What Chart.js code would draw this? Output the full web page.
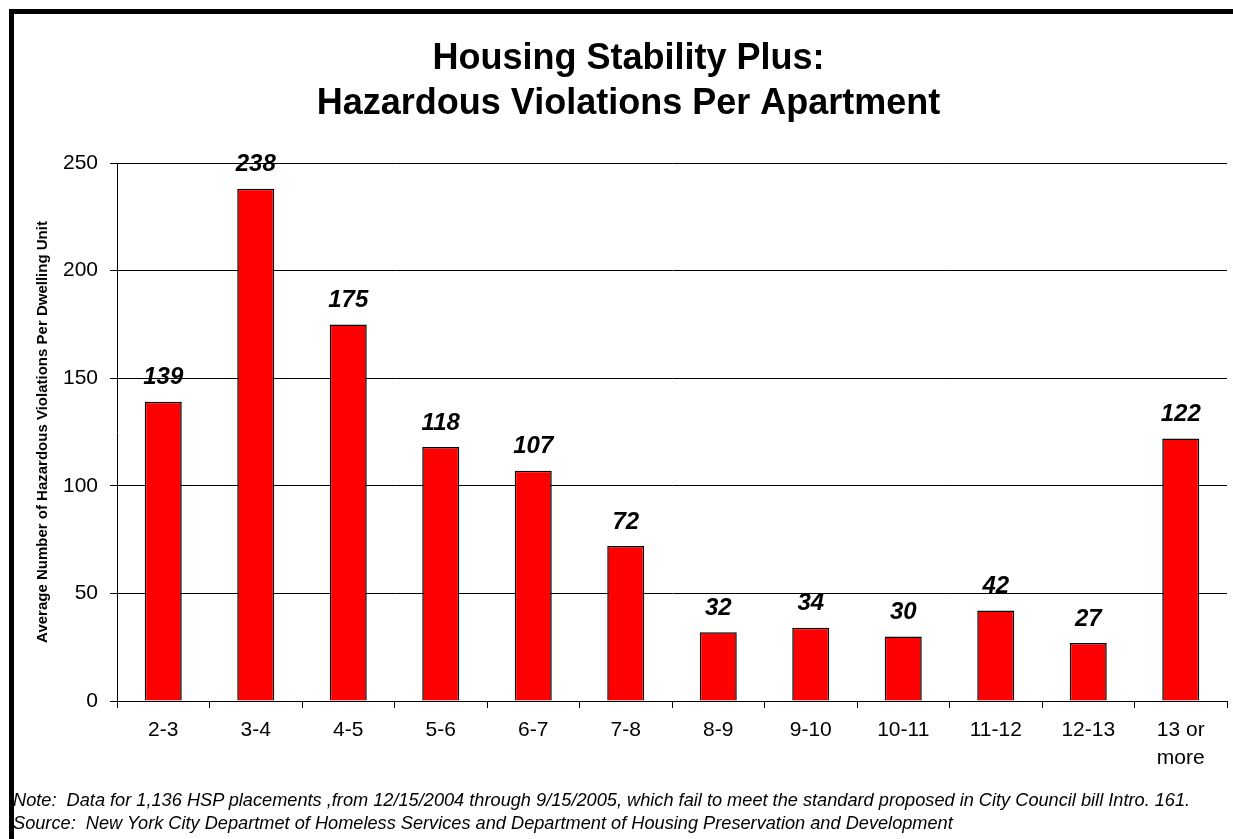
<!DOCTYPE html>
<html>
<head>
<meta charset="utf-8">
<script src="https://cdn.jsdelivr.net/npm/chart.js@4/dist/chart.umd.min.js"></script>
<style>
  body { margin: 0; background: #fff; font-family: Arial, "Liberation Sans", sans-serif; }
  #wrap { position: relative; width: 1233px; height: 839px; overflow: hidden; }
  #frame { position: absolute; left: 9px; top: 9px; width: 1300px; height: 900px;
           border-left: 5px solid #000; border-top: 5px solid #000; }
  #myChart { position: absolute; left: 0; top: 0; }
  .note { position: absolute; left: 13px; font-style: italic; font-size: 18.2px; line-height: 23px; color: #000; white-space: nowrap; }
</style>
</head>
<body>
<div id="wrap">
  <div id="frame"></div>
  <canvas id="myChart" width="1233" height="839"></canvas>
  <div class="note" style="top:789px">Note:&nbsp; Data for 1,136 HSP placements ,from 12/15/2004 through 9/15/2005, which fail to meet the standard proposed in City Council bill Intro. 161.</div>
  <div class="note" style="top:812px">Source:&nbsp; New York City Departmet of Homeless Services and Department of Housing Preservation and Development</div>
</div>
<script>
const categories = ['2-3', '3-4', '4-5', '5-6', '6-7', '7-8', '8-9', '9-10', '10-11', '11-12', '12-13', ['13 or', 'more']]
const violations = [139, 238, 175, 118, 107, 72, 32, 34, 30, 42, 27, 122]
const yTicks = [0, 50, 100, 150, 200, 250]

const FONT = 'Arial, "Liberation Sans", sans-serif'

// draws the bold italic numbers above each bar
const barLabels = {
  id: 'barLabels',
  afterDatasetsDraw(chart) {
    const ctx = chart.ctx
    const meta = chart.getDatasetMeta(0)
    ctx.save()
    ctx.font = 'italic bold 24px ' + FONT
    ctx.fillStyle = '#000'
    ctx.textAlign = 'center'
    ctx.textBaseline = 'middle'
    meta.data.forEach((bar, i) => {
      ctx.fillText(violations[i], bar.x, bar.y - 24)
    })
    ctx.restore()
  }
}

const drawChart = () => {
  const ctx = document.getElementById('myChart').getContext('2d')
  new Chart(ctx, {
    type: 'bar',
    data: {
      labels: categories,
      datasets: [{
        data: violations,
        backgroundColor: '#ff0000',
        borderColor: '#000',
        borderWidth: 1.5,
        categoryPercentage: 1,
        barPercentage: 0.4
      }]
    },
    options: {
      responsive: false,
      animation: false,
      layout: { padding: { top: 0, left: 30, right: 6, bottom: 0 } },
      plugins: {
        legend: { display: false },
        tooltip: { enabled: false },
        title: {
          display: true,
          text: ['Housing Stability Plus:', 'Hazardous Violations Per Apartment'],
          color: '#000',
          font: { family: FONT, size: 36, weight: 'bold', lineHeight: 1.25 },
          padding: { top: 37, bottom: 36 }
        }
      },
      scales: {
        x: {
          afterFit: (s) => { s.height = 138 },
          grid: { offset: true, drawOnChartArea: false, color: '#000', tickLength: 7 },
          border: { color: '#000' },
          ticks: { color: '#000', font: { family: FONT, size: 21, lineHeight: 1.35 }, padding: 8, maxRotation: 0, autoSkip: false }
        },
        y: {
          min: 0,
          max: 250,
          afterFit: (s) => { s.width = 87 },
          afterBuildTicks: (s) => { s.ticks = yTicks.map(v => ({ value: v })) },
          grid: { color: '#000', tickLength: 7 },
          border: { color: '#000' },
          ticks: { color: '#000', font: { family: FONT, size: 21 }, padding: 12 },
          title: {
            display: true,
            text: 'Average Number of Hazardous Violations Per Dwelling Unit',
            color: '#000',
            font: { family: FONT, size: 15, weight: 'bold' },
            padding: { top: 4 }
          }
        }
      }
    },
    plugins: [barLabels]
  })
}

window.addEventListener('load', () => {
  drawChart()
})
</script>
</body>
</html>
